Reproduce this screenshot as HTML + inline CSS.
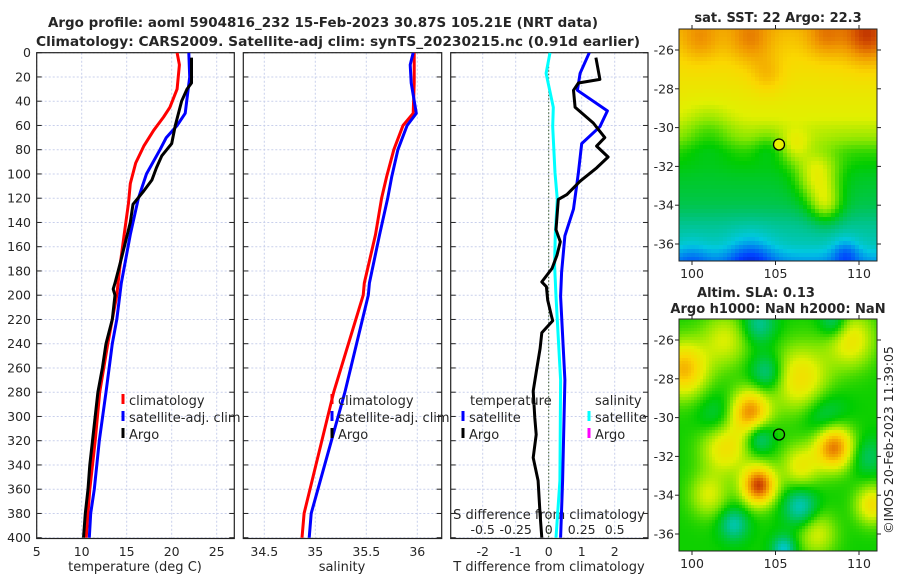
<!DOCTYPE html>
<html><head><meta charset="utf-8">
<style>
html,body{margin:0;padding:0;background:#fff;}
#wrap{position:relative;width:900px;height:580px;overflow:hidden;}
svg{position:absolute;left:0;top:0;}
canvas{position:absolute;image-rendering:pixelated;}
text{font-family:"DejaVu Sans","Liberation Sans",sans-serif;fill:#262626;}
</style></head>
<body>
<div id="wrap">
<canvas id="sst" width="198" height="232" style="left:679px;top:29px;width:198px;height:232px"></canvas>
<canvas id="sla" width="198" height="232" style="left:679px;top:319px;width:198px;height:232px"></canvas>
<svg id="fig" width="900" height="580"></svg>
</div>
<script>
// ---- data ----
const depthClim=[0,10,30,45,53,64,77,91,108,124,151,179,200,220,240,280,320,360,380,400];
const tempClim=[20.6,20.85,20.6,19.8,19.1,18.0,16.9,16.0,15.4,15.2,14.7,14.2,13.9,13.4,12.9,12.0,11.5,10.9,10.7,10.5];
const depthSat=[0,20,50,60,70,80,100,120,150,190,220,240,280,320,360,380,400];
const tempSat=[21.9,22.0,21.5,20.6,19.4,18.7,17.2,16.3,15.4,14.4,13.9,13.4,12.7,11.96,11.4,11.0,10.85];
const depthArgo=[4,25,30,40,60,75,85,95,105,115,125,140,170,190,195,200,220,240,260,280,300,320,340,360,380,400];
const tempArgo=[22.2,22.2,21.7,21.1,20.4,20.0,18.9,18.3,17.8,16.8,15.7,15.4,14.4,13.7,13.5,13.7,13.4,12.7,12.3,11.8,11.5,11.2,10.9,10.7,10.4,10.2];
const depthSal=[0,10,25,50,60,80,102,120,150,190,200,280,380,400];
const salClim=[35.97,35.97,35.97,35.96,35.86,35.77,35.70,35.65,35.59,35.48,35.47,35.18,34.89,34.87];
const salSat=[35.96,35.93,35.94,35.99,35.90,35.81,35.75,35.71,35.63,35.53,35.52,35.29,34.96,34.94];
const depthSdiff=[0,17,45,61,99,121,149,176,188,201,270,353,400];
const sDiffSat=[0.01,-0.02,0.035,0.03,0.048,0.065,0.05,0.045,0.05,0.055,0.09,0.085,0.055];
const depthTdiff=[0,17,31,48,61,75,99,129,151,181,201,270,353,400];
const tDiffSat=[1.23,0.95,0.87,1.78,1.55,1.0,0.9,0.75,0.49,0.39,0.36,0.49,0.42,0.36];
const depthAdiff=[4,22,25,31,45,58,70,77,86,95,106,117,121,146,156,167,178,189,193,204,219,221,231,244,262,279,301,315,334,353,381,400];
const tDiffArgo=[1.43,1.55,0.9,0.75,0.8,1.35,1.7,1.45,1.8,1.45,0.95,0.55,0.29,0.22,0.35,0.25,0.1,-0.21,-0.07,-0.03,0.1,0.12,-0.21,-0.26,-0.37,-0.47,-0.42,-0.38,-0.47,-0.32,-0.26,-0.21];
const depthTicks=[0,20,40,60,80,100,120,140,160,180,200,220,240,260,280,300,320,340,360,380,400];
const tempTicks=[5,10,15,20,25];
const salTicks=[34.5,35,35.5,36];
const tdiffTicks=[-2,-1,0,1,2];
const sdiffTicks=[-0.5,-0.25,0,0.25,0.5];
const sdiffTickLabels=["-0.5","-0.25","0","0.25","0.5"];
const latTicks=[-26,-28,-30,-32,-34,-36];
const lonTicks=[100,105,110];
const argoLon=105.21, argoLat=-30.87;

// ---- scales ----
const TOP=52.7, BOT=538.5;
const yD=d=>TOP+d*1.2125;
const P1={l:36.7,r:234.3}, P2={l:243.3,r:441.7}, P3={l:450.7,r:648};
const xT=t=>36.7+(t-5)*9;
const xS=s=>315.3+(s-35)*102;
const xTd=t=>548.7+33*t;
const xSd=s=>548.7+132*s;
const mLon=lon=>692+(lon-100)*16.7;
const mLat1=lat=>50+(-26-lat)*19.4;
const mLat2=lat=>340+(-26-lat)*19.4;

const NS="http://www.w3.org/2000/svg";
const svg=document.getElementById('fig');
function mk(tag,attrs,parent){const e=document.createElementNS(NS,tag);for(const k in attrs)e.setAttribute(k,attrs[k]);(parent||svg).appendChild(e);return e;}
function txt(s,x,y,opt,parent){const e=mk('text',Object.assign({x:x,y:y,'font-size':12},opt||{}),parent);e.textContent=s;return e;}

const defs=mk('defs',{});
[P1,P2,P3].forEach((p,i)=>{const c=mk('clipPath',{id:'clip'+i},defs);mk('rect',{x:p.l,y:TOP,width:p.r-p.l,height:BOT-TOP},c);});

function panel(p,name,xticks,xf){
  const g=mk('g',{});
  
  
  depthTicks.forEach(d=>{
    const y=yD(d);
    const gl=mk('line',{x1:p.l,x2:p.r,y1:y,y2:y,stroke:'#c9d0ec','stroke-width':1,'stroke-dasharray':'2,2'},g);
    
    mk('line',{x1:p.l,x2:p.l+5,y1:y,y2:y,stroke:'#222','stroke-width':1},g);
    mk('line',{x1:p.r-5,x2:p.r,y1:y,y2:y,stroke:'#222','stroke-width':1},g);
  });
  xticks.forEach(v=>{
    const x=xf(v);
    const gl=mk('line',{x1:x,x2:x,y1:TOP,y2:BOT,stroke:'#c9d0ec','stroke-width':1,'stroke-dasharray':'2,2'},g);
    
  });
  const fr=mk('rect',{x:p.l,y:TOP,width:p.r-p.l,height:BOT-TOP,fill:'none',stroke:'#222','stroke-width':1.2},g);
  
  return g;
}
function line(depths,vals,xf,color,clip,name,w){
  const pts=depths.map((d,i)=>xf(vals[i]).toFixed(1)+','+yD(d).toFixed(1)).join(' ');
  const e=mk('polyline',{points:pts,fill:'none',stroke:color,'stroke-width':w||3,'stroke-linejoin':'round','clip-path':'url(#clip'+clip+')'});
  
  
}

panel(P1,'temperature-panel',tempTicks,xT);
panel(P2,'salinity-panel',salTicks,xS);
panel(P3,'difference-panel',tdiffTicks,xTd);

depthTicks.forEach(d=>{const t=txt(String(d),31,yD(d)+4.5,{'text-anchor':'end','font-size':12.5});});
tempTicks.forEach(v=>{const t=txt(String(v),xT(v),556,{'text-anchor':'middle','font-size':12.5});});
salTicks.forEach(v=>{const t=txt(String(v),xS(v),556,{'text-anchor':'middle','font-size':12.5});});
tdiffTicks.forEach(v=>{const t=txt(String(v),xTd(v),556,{'text-anchor':'middle','font-size':12.5});});
sdiffTicks.forEach((v,i)=>{const t=txt(sdiffTickLabels[i],xSd(v),534,{'text-anchor':'middle','font-size':12.5});});

let t;
t=txt('temperature (deg C)',135,571,{'text-anchor':'middle','font-size':13});
t=txt('salinity',342,571,{'text-anchor':'middle','font-size':13});
t=txt('T difference from climatology',549,571,{'text-anchor':'middle','font-size':13});
t=txt('S difference from climatology',549,519,{'text-anchor':'middle','font-size':13});

const z=mk('line',{x1:xTd(0),x2:xTd(0),y1:TOP,y2:BOT,stroke:'#3a5a2a','stroke-width':1,'stroke-dasharray':'1.5,2'});


line(depthClim,tempClim,xT,'#ff0000',0,'temp-climatology-line');
line(depthSat,tempSat,xT,'#0000ff',0,'temp-satellite-line');
line(depthArgo,tempArgo,xT,'#000000',0,'temp-argo-line');
line(depthSal,salClim,xS,'#ff0000',1,'sal-climatology-line');
line(depthSal,salSat,xS,'#0000ff',1,'sal-satellite-line');
line(depthSdiff,sDiffSat,xSd,'#00ffff',2,'sdiff-satellite-line');
line(depthTdiff,tDiffSat,xTd,'#0000ff',2,'tdiff-satellite-line');
line(depthAdiff,tDiffArgo,xTd,'#000000',2,'tdiff-argo-line');

function legendEntry(x,y,color,label,name){
  const g=mk('g',{});
  
  
  mk('rect',{x:x-1.5,y:y-11,width:3,height:10,fill:color},g);
  txt(label,x+6,y,{'font-size':13},g);
}
legendEntry(123,405,'#ff0000','climatology','legend-entry-climatology');
legendEntry(123,422,'#0000ff','satellite-adj. clim','legend-entry-satellite');
legendEntry(123,439,'#000000','Argo','legend-entry-argo');
legendEntry(332,405,'#ff0000','climatology','legend-entry-climatology-sal');
legendEntry(332,422,'#0000ff','satellite-adj. clim','legend-entry-satellite-sal');
legendEntry(332,439,'#000000','Argo','legend-entry-argo-sal');
t=txt('temperature',470,405,{'font-size':13});
t=txt('salinity',595,405,{'font-size':13});
legendEntry(463,422,'#0000ff','satellite','legend-entry-tdiff-satellite');
legendEntry(463,439,'#000000','Argo','legend-entry-tdiff-argo');
legendEntry(589,422,'#00ffff','satellite','legend-entry-sdiff-satellite');
legendEntry(589,439,'#ff00ff','Argo','legend-entry-sdiff-argo');

t=txt('Argo profile: aoml 5904816_232 15-Feb-2023 30.87S 105.21E (NRT data)',48,27,{'font-size':13,'font-weight':'bold',textLength:550,lengthAdjust:'spacingAndGlyphs',fill:'#111'});
t=txt('Climatology: CARS2009. Satellite-adj clim: synTS_20230215.nc (0.91d earlier)',36,46,{'font-size':13,'font-weight':'bold',textLength:604,lengthAdjust:'spacingAndGlyphs',fill:'#111'});
t=txt('sat. SST: 22 Argo: 22.3',778,22,{'font-size':13,'font-weight':'bold','text-anchor':'middle',fill:'#111'});
t=txt('Altim. SLA: 0.13',756,297,{'font-size':13,'font-weight':'bold','text-anchor':'middle',fill:'#111'});
t=txt('Argo h1000: NaN h2000: NaN',778,313,{'font-size':13,'font-weight':'bold','text-anchor':'middle',fill:'#111'});
t=txt('©IMOS 20-Feb-2023 11:39:05',0,0,{'font-size':12.5,'text-anchor':'middle',transform:'translate(893,440) rotate(-90)'});

function mapAxes(top,latf,name){
  const g=mk('g',{});
  
  
  const bot=top+232;
  mk('rect',{x:679,y:top,width:198,height:232,fill:'none',stroke:'#222','stroke-width':1},g);
  latTicks.forEach(l=>{const y=latf(l);
    mk('line',{x1:675,x2:679,y1:y,y2:y,stroke:'#222'},g);
    mk('line',{x1:877,x2:881,y1:y,y2:y,stroke:'#222'},g);
    const tt=txt(String(l),674,y+4.5,{'text-anchor':'end','font-size':12.5},g);});
  lonTicks.forEach(l=>{const x=mLon(l);
    mk('line',{x1:x,x2:x,y1:top-4,y2:top,stroke:'#222'},g);
    mk('line',{x1:x,x2:x,y1:bot,y2:bot+4,stroke:'#222'},g);
    const tt=txt(String(l),x,bot+17,{'text-anchor':'middle','font-size':12.5},g);});
}
mapAxes(29,mLat1,'sst-map-axes');
mapAxes(319,mLat2,'sla-map-axes');
let c1=mk('circle',{cx:mLon(argoLon),cy:mLat1(argoLat),r:5.5,fill:'#e8f000',stroke:'#000','stroke-width':1.3});

let c2=mk('circle',{cx:mLon(argoLon),cy:mLat2(argoLat),r:5.5,fill:'none',stroke:'#000','stroke-width':1.3});


const cstops=[[0,[0,0,140]],[0.12,[0,60,255]],[0.25,[0,200,225]],[0.36,[0,195,110]],[0.46,[0,205,0]],[0.55,[130,230,0]],[0.63,[225,240,0]],[0.72,[250,215,0]],[0.82,[240,150,0]],[0.9,[215,85,0]],[1,[155,0,0]]];
function cmap(v){v=Math.max(0,Math.min(1,v));for(let i=1;i<cstops.length;i++){if(v<=cstops[i][0]){const a=cstops[i-1],b=cstops[i];const f=(v-a[0])/(b[0]-a[0]);return a[1].map((c,k)=>Math.round(c+(b[1][k]-c)*f));}}return cstops[cstops.length-1][1];}
const lonMin=99.22,lonMax=111.08,latMax=-24.92,latMin=-36.88;
const sstBaseLat=[-37,-36,-35,-34,-32.5,-31.3,-30.5,-29.5,-28,-26.5,-25];
const sstBaseVal=[0.2,0.29,0.33,0.39,0.43,0.49,0.57,0.63,0.67,0.71,0.76];
const sstBlobs=[[110.5,-25.3,0.18,1.0],[108,-25.3,0.1,0.8],[103.5,-25.5,0.1,0.9],[100.5,-25.5,0.08,0.8],[104.5,-27.3,0.07,0.7],[107.5,-32.5,0.2,0.9],[108,-34,0.17,0.7],[106.2,-31,0.1,0.6],[101,-30.3,-0.08,1],[104.5,-31,-0.05,0.6],[103.5,-36.9,-0.12,1.0],[109.2,-36.5,-0.1,0.6],[100,-36.9,-0.06,0.8]];
const slaBlobs=[[99.5,-27.5,0.3,1],[103.5,-29.7,0.35,0.8],[104,-33.5,0.45,0.7],[108.5,-31.5,0.4,0.8],[106.5,-28,0.22,1.2],[102,-31.5,0.22,1],[109.5,-26,0.2,1],[102,-26,0.15,1],[110.8,-34.5,0.22,0.7],[106.5,-32.5,0.18,0.8],[107.5,-36,0.15,0.8],[101,-34,0.15,0.8],
[104.5,-27.7,-0.16,0.7],[104,-25.2,-0.15,0.7],[108.5,-25.1,-0.15,0.6],[104,-31,-0.17,0.6],[106.5,-34.6,-0.19,0.7],[102.5,-35.5,-0.17,0.6],[105.5,-36.8,-0.2,0.5],[101.5,-30,-0.1,0.8],[108,-30,-0.12,0.9],[110.5,-32,-0.1,0.7]];
function interp(xs,ys,x){if(x<=xs[0])return ys[0];for(let i=1;i<xs.length;i++){if(x<=xs[i]){const f=(x-xs[i-1])/(xs[i]-xs[i-1]);return ys[i-1]+(ys[i]-ys[i-1])*f;}}return ys[ys.length-1];}
function blobSum(bl,lon,lat){let s=0;bl.forEach(b=>{const dx=lon-b[0],dy=lat-b[1];s+=b[2]*Math.exp(-(dx*dx+dy*dy)/(2*b[3]*b[3]));});return s;}
function draw(id,cell,fn){
  const cv=document.getElementById(id),ctx=cv.getContext('2d');
  for(let py=0;py<232;py+=cell)for(let px=0;px<198;px+=cell){
    const lon=lonMin+(px+cell/2)/198*(lonMax-lonMin);
    const lat=latMax-(py+cell/2)/232*(latMax-latMin);
    const c=cmap(fn(lon,lat));
    ctx.fillStyle='rgb('+c.join(',')+')';
    ctx.fillRect(px,py,cell,cell);
  }
}
draw('sst',4,(lon,lat)=>interp(sstBaseLat,sstBaseVal,lat)+blobSum(sstBlobs,lon,lat));
draw('sla',3,(lon,lat)=>0.47+blobSum(slaBlobs,lon,lat));
</script>
</body></html>
